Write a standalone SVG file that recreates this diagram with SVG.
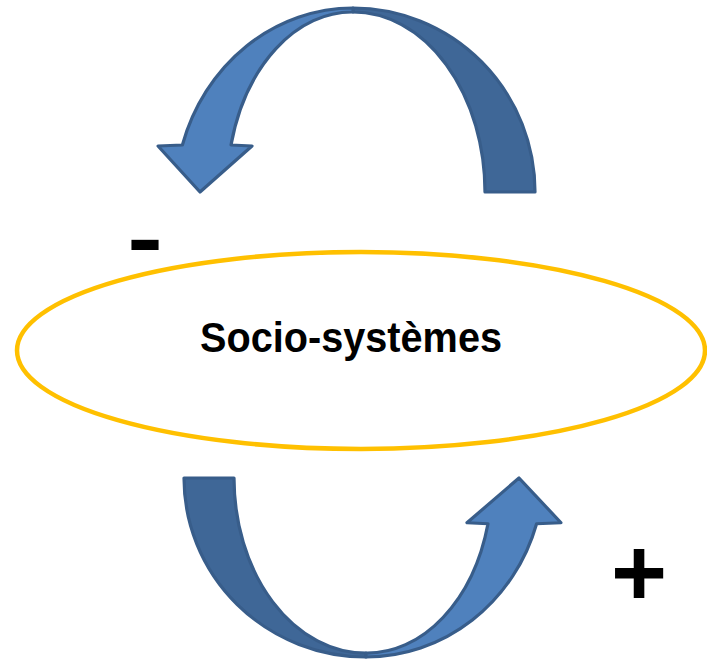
<svg xmlns="http://www.w3.org/2000/svg" width="707" height="662" viewBox="0 0 707 662">
<style>
.back{fill:#3F6797;stroke:#385D8A;stroke-width:3.2;stroke-linejoin:round}
.front{fill:#4F81BD;stroke:#385D8A;stroke-width:3.2;stroke-linejoin:round}
.sign{font-family:"Liberation Sans",Arial,sans-serif;font-weight:bold;fill:#000}
</style>
<rect width="707" height="662" fill="#fff"/>
<g id="connectors">
<g id="arrow-top">
<path class="back" d="M485,192 L535,192 A182,184 0 0 0 353,8 L353,12 A132,180 0 0 1 485,192 Z"/>
<path class="front" d="M353,8 A178,192 0 0 0 182.4,145 L158,146 L200,192 L252,146 L231,145 A125,178 0 0 1 353,12 Z"/>
</g>
<g id="arrow-bottom" transform="matrix(-1,0,0,-0.973,719,664.8)">
<path class="back" d="M485,192 L535,192 A182,184 0 0 0 353,8 L353,12 A132,180 0 0 1 485,192 Z"/>
<path class="front" d="M353,8 A178,192 0 0 0 182.4,145 L158,146 L200,192 L252,146 L231,145 A125,178 0 0 1 353,12 Z"/>
</g>
</g>
<g id="node-socio">
<ellipse cx="361" cy="350.5" rx="344" ry="98.5" fill="none" stroke="#FFC000" stroke-width="4.5"/>
<text x="351" y="352" text-anchor="middle" font-family="'Liberation Sans',Arial,sans-serif" font-weight="bold" font-size="43" textLength="302" lengthAdjust="spacingAndGlyphs">Socio-systèmes</text>
</g>
<g id="label-minus">
<text class="sign" x="145" y="267" text-anchor="middle" font-size="85" textLength="35.6" lengthAdjust="spacingAndGlyphs">-</text>
</g>
<g id="label-plus">
<text class="sign" x="639" y="606" text-anchor="middle" font-size="96">+</text>
</g>
</svg>
